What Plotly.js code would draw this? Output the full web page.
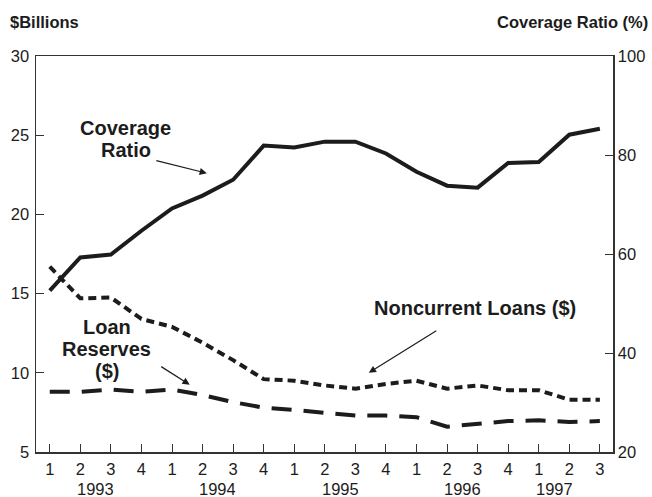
<!DOCTYPE html>
<html>
<head>
<meta charset="utf-8">
<script src="https://cdn.plot.ly/plotly-3.0.1.min.js"></script>
<style>html,body{margin:0;padding:0;background:#fff;}#chart{width:652px;height:497px;}</style>
</head>
<body>
<div id="chart"></div>
<script>
const quarters = ['1','2','3','4','1','2','3','4','1','2','3','4','1','2','3','4','1','2','3'];
const years = ['1993','1994','1995','1996','1997'];
const yearCenters = [1.5, 5.5, 9.5, 13.5, 16.5];
const coverageRatio = [52.6, 59.3, 59.9, 64.7, 69.2, 71.8, 75.0, 81.9, 81.5, 82.7, 82.7, 80.3, 76.6, 73.8, 73.4, 78.4, 78.6, 84.1, 85.3];
const noncurrentLoans = [16.7, 14.7, 14.75, 13.4, 12.9, 11.9, 10.8, 9.6, 9.5, 9.2, 9.0, 9.3, 9.5, 9.0, 9.2, 8.9, 8.9, 8.3, 8.3];
const loanReserves = [8.8, 8.8, 8.95, 8.8, 8.95, 8.6, 8.15, 7.8, 7.65, 7.45, 7.3, 7.3, 7.2, 6.6, 6.8, 6.95, 7.0, 6.9, 6.95];

const idx = quarters.map((_, i) => i);
const ink = '#1c1c1c';
const font = 'Liberation Sans, Arial, sans-serif';

const traces = [
  {x: idx, y: noncurrentLoans, type: 'scatter', mode: 'lines', yaxis: 'y',
   line: {color: ink, width: 4, dash: '8px,5px'}, name: 'Noncurrent Loans ($)'},
  {x: idx, y: loanReserves, type: 'scatter', mode: 'lines', yaxis: 'y',
   line: {color: ink, width: 4, dash: '20px,12px'}, name: 'Loan Reserves ($)'},
  {x: idx, y: coverageRatio, type: 'scatter', mode: 'lines', yaxis: 'y2',
   line: {color: ink, width: 4}, name: 'Coverage Ratio'}
];

const lbl = {family: font, size: 20, color: ink};
const annotations = [
  {xref: 'paper', yref: 'paper', x: -0.048, y: 1.085, xanchor: 'left', yanchor: 'middle',
   text: '<b>$Billions</b>', showarrow: false, font: {family: font, size: 16.5, color: ink}},
  {xref: 'paper', yref: 'paper', x: 1.064, y: 1.085, xanchor: 'right', yanchor: 'middle',
   text: '<b>Coverage Ratio (%)</b>', showarrow: false, font: {family: font, size: 16.5, color: ink}},
  {xref: 'x', yref: 'y', x: 2.49, y: 25.45, text: '<b>Coverage</b>', showarrow: false, font: lbl},
  {xref: 'x', yref: 'y', x: 2.49, y: 24.05, text: '<b>Ratio</b>', showarrow: false, font: lbl},
  {xref: 'x', yref: 'y', x: 5.14, y: 22.6, ax: -52, ay: -13, text: '', showarrow: true,
   arrowhead: 2, arrowsize: 1.2, arrowwidth: 1.2, arrowcolor: ink},
  {xref: 'x', yref: 'y', x: 13.9, y: 14.1, text: '<b>Noncurrent Loans ($)</b>', showarrow: false, font: lbl},
  {xref: 'x', yref: 'y', x: 10.44, y: 10.0, ax: 69, ay: -43, text: '', showarrow: true,
   arrowhead: 2, arrowsize: 1.2, arrowwidth: 1.2, arrowcolor: ink},
  {xref: 'x', yref: 'y', x: 1.87, y: 12.9, text: '<b>Loan</b>', showarrow: false, font: lbl},
  {xref: 'x', yref: 'y', x: 1.87, y: 11.52, text: '<b>Reserves</b>', showarrow: false, font: lbl},
  {xref: 'x', yref: 'y', x: 1.87, y: 10.14, text: '<b>($)</b>', showarrow: false, font: lbl},
  {xref: 'x', yref: 'y', x: 4.58, y: 9.25, ax: -30, ay: -19, text: '', showarrow: true,
   arrowhead: 2, arrowsize: 1.2, arrowwidth: 1.2, arrowcolor: ink}
];
years.forEach((yr, i) => {
  annotations.push({xref: 'x', yref: 'paper', x: yearCenters[i], y: -0.093, yanchor: 'middle',
    height: 16, borderpad: 0,
    text: yr, showarrow: false, font: {family: font, size: 16.5, color: ink}});
});

const layout = {
  width: 652, height: 497,
  margin: {l: 36, r: 39, t: 56, b: 45},
  paper_bgcolor: '#fff', plot_bgcolor: '#fff',
  showlegend: false,
  font: {family: font, size: 16.5, color: ink},
  xaxis: {range: [-0.45, 18.43], tickvals: idx, ticktext: quarters, ticks: 'inside', ticklen: 8,
          tickwidth: 1, tickcolor: '#333', showline: true, linecolor: '#333', linewidth: 1.5,
          mirror: true, showgrid: false, zeroline: false, ticklabelstandoff: 2},
  yaxis: {range: [5, 30], tickvals: [5, 10, 15, 20, 25, 30], ticks: 'inside', ticklen: 8,
          tickwidth: 1, tickcolor: '#333', showline: true, linecolor: '#333', linewidth: 1.5,
          showgrid: false, zeroline: false, ticklabelstandoff: 2},
  yaxis2: {range: [20, 100], tickvals: [20, 40, 60, 80, 100], overlaying: 'y', side: 'right',
           ticks: 'inside', ticklen: 8, tickwidth: 1, tickcolor: '#333', showline: true,
           linecolor: '#333', linewidth: 1.5, showgrid: false, zeroline: false},
  annotations: annotations
};

Plotly.newPlot('chart', traces, layout, {staticPlot: true, displayModeBar: false});
</script>
</body>
</html>
